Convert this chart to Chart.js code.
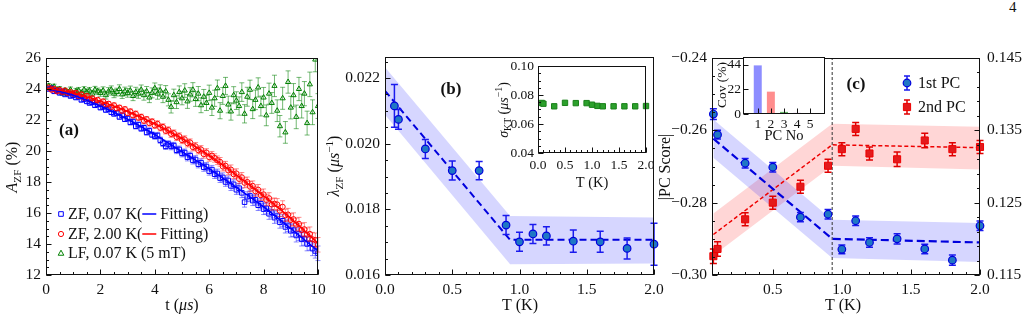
<!DOCTYPE html>
<html>
<head>
<meta charset="utf-8">
<script src="https://cdn.jsdelivr.net/npm/chart.js@4.4.1/dist/chart.umd.min.js"></script>
<style>
  html, body { margin: 0; padding: 0; background: #fff; }
  #page { position: relative; width: 1028px; height: 321px; overflow: hidden; }
  #page canvas { position: absolute; }
  #pgno { position: absolute; left: 1009px; top: -1px; font: 15px "Liberation Serif", serif; color: #111; }
</style>
</head>
<body>
<div id="page">
  <div id="pgno">4</div>
  <canvas id="ca" width="340" height="281" style="left:0px;top:40px"></canvas>
  <canvas id="cb" width="348" height="281" style="left:322px;top:40px"></canvas>
  <canvas id="cc" width="373" height="281" style="left:655px;top:40px"></canvas>
  <canvas id="cbi" width="170" height="140" style="left:490px;top:55px"></canvas>
  <canvas id="cci" width="125" height="95" style="left:705px;top:50px"></canvas>
</div>
<script>
// ---------- (a) asymmetry vs time ----------
const tA = [0.1,0.2,0.3,0.4,0.5,0.6,0.7,0.8,0.9,1.0,
  1.1,1.2,1.3,1.4,1.5,1.6,1.7,1.8,1.9,2.0,
  2.1,2.2,2.3,2.4,2.5,2.6,2.7,2.8,2.9,3.0,
  3.1,3.2,3.3,3.4,3.5,3.6,3.7,3.8,3.9,4.0,
  4.1,4.2,4.3,4.4,4.5,4.6,4.7,4.8,4.9,5.0,
  5.1,5.2,5.3,5.4,5.5,5.6,5.7,5.8,5.9,6.0,
  6.1,6.2,6.3,6.4,6.5,6.6,6.7,6.8,6.9,7.0,
  7.1,7.2,7.3,7.4,7.5,7.6,7.7,7.8,7.9,8.0,
  8.1,8.2,8.3,8.4,8.5,8.6,8.7,8.8,8.9,9.0,
  9.1,9.2,9.3,9.4,9.5,9.6,9.7,9.8,9.9,10.0];
const zf007 = [24.0,24.05,23.85,23.9,23.75,23.85,23.65,23.7,23.55,23.6,
  23.45,23.5,23.3,23.35,23.2,23.1,23.15,22.95,23.0,22.8,
  22.85,22.65,22.7,22.5,22.4,22.45,22.2,22.3,22.05,22.1,
  21.85,21.9,21.6,21.7,21.45,21.5,21.2,21.3,21.05,20.95,
  21.0,20.7,20.5,20.3,20.45,20.3,20.35,20.05,20.1,19.85,
  19.9,19.6,19.7,19.4,19.45,19.15,19.25,18.95,19.0,18.7,
  18.8,18.5,18.55,18.25,18.3,18.0,18.1,17.75,17.85,17.5,
  17.6,17.3,16.7,17.05,17.1,16.8,16.85,16.5,16.6,16.25,
  16.3,15.95,16.05,15.7,15.8,15.4,15.5,15.1,15.2,14.85,
  14.9,14.55,14.65,14.3,14.35,14.0,14.05,13.7,13.55,13.4];
const zf200 = [24.1,23.95,24.0,23.85,23.95,23.8,23.9,23.75,23.8,23.7,
  23.75,23.55,23.65,23.45,23.55,23.35,23.4,23.25,23.3,23.1,
  23.2,23.0,23.05,22.85,22.95,22.75,22.8,22.6,22.7,22.45,
  22.55,22.3,22.4,22.15,22.2,21.95,22.05,21.8,21.9,21.65,
  21.75,21.5,21.55,21.3,21.35,21.1,21.15,20.9,20.95,20.7,
  20.75,20.5,20.55,20.25,20.3,20.05,20.1,19.8,19.9,19.6,
  19.7,19.55,19.4,19.3,19.0,19.05,18.75,18.8,18.5,18.55,
  18.2,18.3,17.95,18.0,17.7,17.75,17.4,17.5,17.15,17.2,
  16.85,16.95,16.55,16.6,16.55,16.15,16.4,15.85,15.9,15.55,
  15.6,15.25,15.3,14.9,14.95,14.6,14.65,14.3,14.25,13.95];
const lf007 = [24.2,24.1,24.15,23.95,24.0,23.75,23.9,23.8,23.95,23.7,
  23.85,23.9,23.75,23.95,23.8,23.9,23.7,23.95,23.85,23.75,
  23.9,23.6,23.85,23.95,23.7,23.8,24.0,23.65,23.85,23.75,
  23.9,23.55,23.8,23.7,23.95,23.6,23.85,23.45,23.75,24.05,
  23.7,23.9,23.5,23.85,23.3,22.85,23.6,23.15,23.8,23.4,
  23.9,23.2,23.65,23.95,23.35,23.7,22.95,23.5,23.1,23.75,
  22.8,23.4,24.05,22.6,23.55,24.2,23.0,22.55,23.6,23.25,
  22.9,23.8,22.4,23.5,23.95,22.7,23.3,24.1,22.9,23.45,
  22.3,23.7,23.1,24.2,22.6,21.6,23.4,21.2,24.45,22.8,
  23.6,22.2,24.0,22.9,23.7,21.8,24.3,22.5,25.9,22.9];
const errZF = [0.1,0.1,0.11,0.1,0.1,0.11,0.1,0.11,0.1,0.11,
  0.12,0.12,0.13,0.12,0.12,0.13,0.12,0.13,0.13,0.13,
  0.14,0.15,0.14,0.15,0.15,0.14,0.15,0.16,0.15,0.16,
  0.17,0.17,0.18,0.17,0.18,0.18,0.17,0.19,0.18,0.19,
  0.2,0.2,0.21,0.2,0.21,0.22,0.21,0.22,0.22,0.23,
  0.23,0.24,0.23,0.24,0.25,0.24,0.25,0.26,0.25,0.26,
  0.27,0.27,0.28,0.28,0.29,0.28,0.29,0.3,0.29,0.3,
  0.31,0.31,0.32,0.32,0.33,0.32,0.33,0.34,0.34,0.35,
  0.36,0.36,0.37,0.37,0.38,0.38,0.39,0.39,0.4,0.4,
  0.41,0.42,0.42,0.43,0.43,0.44,0.45,0.45,0.46,0.47];
const errLF = [0.15,0.15,0.16,0.15,0.16,0.17,0.16,0.17,0.18,0.17,
  0.19,0.2,0.19,0.2,0.21,0.2,0.21,0.22,0.21,0.22,
  0.24,0.25,0.24,0.25,0.26,0.25,0.27,0.26,0.27,0.28,
  0.29,0.3,0.31,0.3,0.31,0.32,0.31,0.33,0.32,0.34,
  0.36,0.37,0.38,0.37,0.39,0.4,0.39,0.41,0.4,0.42,
  0.44,0.45,0.44,0.46,0.47,0.46,0.48,0.47,0.49,0.5,
  0.51,0.52,0.53,0.52,0.54,0.55,0.54,0.56,0.55,0.57,
  0.59,0.6,0.59,0.61,0.62,0.61,0.63,0.62,0.64,0.65,
  0.67,0.68,0.67,0.69,0.7,0.69,0.71,0.7,0.72,0.73,
  0.75,0.76,0.75,0.77,0.78,0.77,0.79,0.8,0.79,0.8];
const tFit = [0,1,2,3,4,5,6,7,8,9,10];
const fit007 = [24.05,23.6,22.9,22.05,21.05,19.95,18.85,17.65,16.4,15.0,13.55];
const fit200 = [24.05,23.75,23.2,22.55,21.75,20.8,19.7,18.45,17.1,15.65,14.05];
const ticksAx = [0,2,4,6,8,10], labelsAx = ['0','2','4','6','8','10'];
const ticksAy = [12,14,16,18,20,22,24,26], labelsAy = ['12','14','16','18','20','22','24','26'];

// ---------- (b) relaxation rate vs temperature ----------
const tB = [0.07,0.1,0.3,0.5,0.7,0.9,1.0,1.1,1.2,1.4,1.6,1.8,2.0];
const lamB = [0.02115,0.02074,0.01984,0.01918,0.01918,0.01752,0.01701,0.01725,0.01719,0.01703,0.01701,0.01681,0.01694];
const errB = [0.00065,0.0003,0.00029,0.00029,0.00028,0.00029,0.00029,0.00029,0.00028,0.00034,0.00032,0.00032,0.00064];
const fitB_T = [0,0.93,2.0];
const fitB = [0.02161,0.01707,0.01707];
const bandB_hi = [0.02233,0.01780,0.01775];
const bandB_lo = [0.02088,0.01633,0.01635];
const ticksBx = [0,0.5,1.0,1.5,2.0], labelsBx = ['0.0','0.5','1.0','1.5','2.0'];
const ticksBy = [0.016,0.018,0.020,0.022], labelsBy = ['0.016','0.018','0.020','0.022'];

// inset (b): sigma_KT
const tK = [0.07,0.1,0.3,0.5,0.7,0.9,1.0,1.1,1.2,1.4,1.6,1.8,2.0];
const sigKT = [0.0745,0.0740,0.0722,0.0746,0.0744,0.0744,0.0733,0.0725,0.0722,0.0722,0.0722,0.0722,0.0724];
const ticksKx = [0,0.5,1.0,1.5,2.0], labelsKx = ['0.0','0.5','1.0','1.5','2.0'];
const ticksKy = [0.04,0.06,0.08,0.10], labelsKy = ['0.04','0.06','0.08','0.10'];

// ---------- (c) PCA scores ----------
const tC = [0.07,0.1,0.3,0.5,0.7,0.9,1.0,1.1,1.2,1.4,1.6,1.8,2.0];
const pc1 = [-0.2555,-0.2612,-0.2691,-0.2702,-0.2840,-0.2832,-0.2929,-0.2850,-0.2910,-0.2900,-0.2928,-0.2959,-0.2864];
const pc1Err = [0.0015,0.0012,0.0013,0.0013,0.0013,0.0013,0.0012,0.0013,0.0013,0.0014,0.0013,0.0014,0.0013];
const pc2 = [0.1176,0.1186,0.1227,0.1250,0.1272,0.1301,0.1324,0.1352,0.1318,0.1310,0.1336,0.1324,0.1327];
const pc2Err = [0.0010,0.0010,0.0009,0.0009,0.0009,0.0009,0.0009,0.0009,0.0009,0.0010,0.0010,0.0009,0.0009];
const fitC_T = [0.07,0.93,2.0];
const fitC1 = [-0.2623,-0.2900,-0.2910];
const bandC1_hi = [-0.2570,-0.2847,-0.2856];
const bandC1_lo = [-0.2676,-0.2953,-0.2964];
const fitC2 = [0.1206,0.1330,0.1326];
const bandC2_hi = [0.1235,0.1359,0.1355];
const bandC2_lo = [0.1177,0.1301,0.1296];
const Tc = 0.93;
const ticksCx = [0.5,1.0,1.5,2.0], labelsCx = ['0.5','1.0','1.5','2.0'];
const ticksCy = [-0.30,-0.28,-0.26,-0.24], labelsCy = ['\u22120.30','\u22120.28','\u22120.26','\u22120.24'];
const ticksCy2 = [0.115,0.125,0.135,0.145], labelsCy2 = ['0.115','0.125','0.135','0.145'];

// inset (c): covariance per PC
const pcNo = [1,2,3,4,5];
const cov = [43.5,20.0,1.9,1.0,0.6];
const ticksPx = [1,2,3,4,5], labelsPx = ['1','2','3','4','5'];
const ticksPy = [0,22,44], labelsPy = ['0','22','44'];

// ---------- helpers ----------
const FONT = '"Liberation Serif", "Times New Roman", serif';
Chart.defaults.font.family = FONT;
Chart.defaults.font.size = 15.5;
Chart.defaults.color = '#111';

const pts = (xs, ys) => xs.map((x, i) => ({ x: x, y: ys[i] }));

function segFont(st, size) {
  const small = st.indexOf('_') >= 0 || st.indexOf('^') >= 0;
  return (st.indexOf('i') >= 0 ? 'italic ' : '') + (st.indexOf('b') >= 0 ? 'bold ' : '') +
    (small ? size * 0.7 : size).toFixed(1) + 'px ' + FONT;
}

function drawRich(ctx, segs, x, y, size, align, rot) {
  segs = segs.map(s => Array.isArray(s) ? { t: s[0], st: s[1] || '' } : s);
  ctx.save();
  ctx.translate(x, y);
  if (rot) ctx.rotate(-Math.PI / 2);
  const widths = segs.map(s => {
    if (s.line) return s.line;
    ctx.font = segFont(s.st, size);
    return ctx.measureText(s.t).width;
  });
  const total = widths.reduce((a, b) => a + b, 0);
  let cx = align === 'left' ? 0 : (align === 'right' ? -total : -total / 2);
  ctx.textAlign = 'left';
  ctx.textBaseline = 'alphabetic';
  segs.forEach((s, i) => {
    if (s.line) {
      ctx.strokeStyle = s.color;
      ctx.lineWidth = 1.5;
      ctx.beginPath();
      ctx.moveTo(cx, 0);
      ctx.lineTo(cx + s.line, 0);
      ctx.stroke();
    } else {
      ctx.font = segFont(s.st, size);
      ctx.fillStyle = '#111';
      let dy = size * 0.33;
      if (s.st.indexOf('_') >= 0) dy += size * 0.22;
      if (s.st.indexOf('^') >= 0) dy -= size * 0.38;
      ctx.fillText(s.t, cx, dy);
    }
    cx += widths[i];
  });
  ctx.restore();
}

function drawMark(ctx, m) {
  ctx.save();
  ctx.lineWidth = m.lw || 1;
  if (m.err) {
    ctx.strokeStyle = m.errColor;
    ctx.lineWidth = 1.5;
    ctx.beginPath();
    ctx.moveTo(m.x, m.y - m.err); ctx.lineTo(m.x, m.y + m.err);
    ctx.moveTo(m.x - 3, m.y - m.err); ctx.lineTo(m.x + 3, m.y - m.err);
    ctx.moveTo(m.x - 3, m.y + m.err); ctx.lineTo(m.x + 3, m.y + m.err);
    ctx.stroke();
    ctx.lineWidth = m.lw || 1;
  }
  ctx.strokeStyle = m.stroke;
  ctx.fillStyle = m.fill || 'rgba(0,0,0,0)';
  ctx.beginPath();
  if (m.type === 'rect') ctx.rect(m.x - m.r, m.y - m.r, 2 * m.r, 2 * m.r);
  else if (m.type === 'tri') { ctx.moveTo(m.x, m.y - m.r); ctx.lineTo(m.x + m.r, m.y + m.r * 0.8); ctx.lineTo(m.x - m.r, m.y + m.r * 0.8); ctx.closePath(); }
  else ctx.arc(m.x, m.y, m.r, 0, Math.PI * 2);
  if (m.fill) ctx.fill();
  ctx.stroke();
  ctx.restore();
}

// frame + inward major/minor ticks
const frameTicks = {
  id: 'frameTicks',
  beforeDraw(chart, args, o) {
    if (!o.bg) return;
    const a = chart.chartArea, ctx = chart.ctx;
    ctx.save();
    ctx.fillStyle = o.bg;
    ctx.fillRect(a.left, a.top, a.right - a.left, a.bottom - a.top);
    ctx.restore();
  },
  afterDatasetsDraw(chart, args, o) {
    const a = chart.chartArea, ctx = chart.ctx;
    const L = Math.round(a.left) + 0.5, R = Math.round(a.right) - 0.5;
    const T = Math.round(a.top) + 0.5, B = Math.round(a.bottom) - 0.5;
    ctx.save();
    ctx.strokeStyle = '#111';
    ctx.lineWidth = 1;
    ctx.strokeRect(L, T, R - L, B - T);
    ctx.beginPath();
    (o.axes || []).forEach(ax => {
      const s = chart.scales[ax.id];
      const put = (v, len) => {
        const p = Math.round(s.getPixelForValue(v)) + 0.5;
        if (ax.side === 'bottom') { ctx.moveTo(p, B); ctx.lineTo(p, B - len); }
        else if (ax.side === 'left') { ctx.moveTo(L, p); ctx.lineTo(L + len, p); }
        else { ctx.moveTo(R, p); ctx.lineTo(R - len, p); }
      };
      if (ax.minor) {
        const b = ax.base || 0;
        const k0 = Math.ceil((s.min - b) / ax.minor - 1e-6), k1 = Math.floor((s.max - b) / ax.minor + 1e-6);
        for (let k = k0; k <= k1; k++) put(b + k * ax.minor, 2.5);
      }
      s.ticks.forEach(t => put(t.value, 5));
    });
    ctx.stroke();
    ctx.restore();
  }
};

// vertical error bars from dataset.errors
const errorBars = {
  id: 'errorBars',
  beforeDatasetDraw(chart, args) {
    const ds = chart.data.datasets[args.index];
    if (!ds.errors) return;
    const meta = args.meta, ys = chart.scales[meta.yAxisID], ctx = chart.ctx, a = chart.chartArea;
    const cap = ds.cap || 3;
    ctx.save();
    if (ds.errClip) { ctx.beginPath(); ctx.rect(a.left, a.top, a.right - a.left, a.bottom - a.top); ctx.clip(); }
    ctx.strokeStyle = ds.errColor;
    ctx.lineWidth = ds.errWidth || 1;
    meta.data.forEach((el, i) => {
      const v = ds.data[i].y, e = ds.errors[i];
      const y1 = ys.getPixelForValue(v - e), y2 = ys.getPixelForValue(v + e);
      ctx.beginPath();
      ctx.moveTo(el.x, y1); ctx.lineTo(el.x, y2);
      ctx.moveTo(el.x - cap, y1); ctx.lineTo(el.x + cap, y1);
      ctx.moveTo(el.x - cap, y2); ctx.lineTo(el.x + cap, y2);
      ctx.stroke();
    });
    ctx.restore();
  }
};

// titles, panel letters, legends
const ann = {
  id: 'ann',
  afterDraw(chart, args, o) {
    const ctx = chart.ctx, ox = o.off[0], oy = o.off[1];
    (o.marks || []).forEach(m => drawMark(ctx, Object.assign({}, m, { x: m.x - ox, y: m.y - oy })));
    (o.texts || []).forEach(t => drawRich(ctx, t.segs, t.x - ox, t.y - oy, t.size || 16, t.align || 'center', t.rot));
  }
};

function axis(o) {
  const vertical = o.pos === 'left' || o.pos === 'right';
  return {
    type: 'linear', position: o.pos, min: o.min, max: o.max,
    grid: { display: false, drawTicks: false },
    border: { display: false },
    afterBuildTicks: s => { s.ticks = o.ticks.map(v => ({ value: v })); },
    afterFit: s => {
      if (vertical) { s.width = o.size; s.paddingTop = 0; s.paddingBottom = 0; }
      else { s.height = o.size; s.paddingLeft = 0; s.paddingRight = 0; }
    },
    ticks: {
      autoSkip: false, maxRotation: 0, minRotation: 0, padding: o.pad,
      font: { size: o.fs || 15.5 }, color: '#111',
      callback: (v, i) => o.labels[i]
    }
  };
}

function opts(padding, scales, plugins) {
  return {
    responsive: false, animation: false, devicePixelRatio: 1, events: [],
    layout: { padding: padding },
    scales: scales,
    plugins: Object.assign({ legend: { display: false }, tooltip: { enabled: false } }, plugins)
  };
}

const BLUE_BAND = 'rgba(0,0,255,0.16)', RED_BAND = 'rgba(255,0,0,0.16)';
const NONE = 'rgba(0,0,0,0)';
const bandDs = (xs, ys, color, yid, ord) => ({
  data: pts(xs, ys), showLine: true, pointRadius: 0, borderWidth: 0, borderColor: NONE,
  backgroundColor: color, fill: color ? '+1' : false, yAxisID: yid || 'y', order: ord
});

// ---------- panel (a) ----------
new Chart(document.getElementById('ca'), {
  type: 'scatter',
  data: { datasets: [
    { data: pts(tFit, fit200), showLine: true, borderColor: '#ff0000', borderWidth: 1.5, pointRadius: 0, cubicInterpolationMode: 'monotone', order: 0 },
    { data: pts(tFit, fit007), showLine: true, borderColor: '#0000ff', borderWidth: 1.5, pointRadius: 0, cubicInterpolationMode: 'monotone', order: 1 },
    { data: pts(tA, zf200), pointStyle: 'circle', pointRadius: 2.6, borderWidth: 1, borderColor: '#ff0000', backgroundColor: NONE,
      errors: errZF, errColor: 'rgba(255,0,0,0.45)', cap: 2.5, order: 2 },
    { data: pts(tA, zf007), pointStyle: 'rect', pointRadius: 3.2, borderWidth: 1, borderColor: '#0000ff', backgroundColor: NONE,
      errors: errZF, errColor: 'rgba(0,0,255,0.45)', cap: 2.5, order: 3 },
    { data: pts(tA, lf007), pointStyle: 'triangle', pointRadius: 3, borderWidth: 1, borderColor: '#008000', backgroundColor: NONE,
      errors: errLF, errColor: 'rgba(0,128,0,0.55)', cap: 2.5, errClip: true, order: 4 }
  ]},
  options: opts({ top: 18, right: 22, left: 0, bottom: 0 }, {
    x: axis({ pos: 'bottom', min: 0, max: 10, ticks: ticksAx, labels: labelsAx, size: 46, pad: 6 }),
    y: axis({ pos: 'left', min: 12, max: 26, ticks: ticksAy, labels: labelsAy, size: 46, pad: 5 })
  }, {
    frameTicks: { axes: [{ id: 'x', side: 'bottom', minor: 0.5 }, { id: 'y', side: 'left', minor: 0.5 }] },
    ann: {
      off: [0, 40],
      marks: [
        { type: 'rect', x: 61, y: 214, r: 2.3, stroke: '#0000ff' },
        { type: 'circle', x: 61, y: 234, r: 2.6, stroke: '#ff0000' },
        { type: 'tri', x: 61, y: 253, r: 2.8, stroke: '#008000' }
      ],
      texts: [
        { segs: [['A', 'i'], ['ZF', '_'], [' (%)']], x: 12, y: 167, rot: true },
        { segs: [['t ('], ['\u03bcs', 'i'], [')']], x: 182, y: 305 },
        { segs: [['(a)', 'b']], x: 69, y: 129, size: 17 },
        { segs: [['ZF, 0.07 K('], { line: 14, color: '#0000ff' }, [' Fitting)']], x: 68, y: 214, align: 'left' },
        { segs: [['ZF, 2.00 K('], { line: 14, color: '#ff0000' }, [' Fitting)']], x: 68, y: 234, align: 'left' },
        { segs: [['LF, 0.07 K (5 mT)']], x: 68, y: 253, align: 'left' }
      ]
    }
  }),
  plugins: [frameTicks, errorBars, ann]
});

// ---------- panel (b) ----------
new Chart(document.getElementById('cb'), {
  type: 'scatter',
  data: { datasets: [
    { data: pts(tB, lamB), pointStyle: 'circle', pointRadius: 3.8, borderWidth: 1.2, borderColor: '#0000dd', backgroundColor: '#1f77c4',
      errors: errB, errColor: '#1a1aee', errWidth: 1.5, cap: 3.5, clip: false, order: 0 },
    { data: pts(fitB_T, fitB), showLine: true, pointRadius: 0, borderColor: '#0000dd', borderWidth: 2, borderDash: [7, 4], order: 1 },
    bandDs(fitB_T, bandB_hi, BLUE_BAND, 'y', 2),
    bandDs(fitB_T, bandB_lo, null, 'y', 3)
  ]},
  options: opts({ top: 17, right: 16, left: 0, bottom: 0 }, {
    x: axis({ pos: 'bottom', min: 0, max: 2.0, ticks: ticksBx, labels: labelsBx, size: 46, pad: 6 }),
    y: axis({ pos: 'left', min: 0.016, max: 0.02264, ticks: ticksBy, labels: labelsBy, size: 63, pad: 5 })
  }, {
    frameTicks: { axes: [{ id: 'x', side: 'bottom', minor: 0.1 }, { id: 'y', side: 'left', minor: 0.0005 }] },
    ann: {
      off: [322, 40],
      texts: [
        { segs: [['\u03bb', 'i'], ['ZF', '_'], [' ('], ['\u03bcs', 'i'], ['\u22121', '^'], [')']], x: 334, y: 166, rot: true },
        { segs: [['T (K)']], x: 520, y: 305 },
        { segs: [['(b)', 'b']], x: 451, y: 88, size: 17 }
      ]
    }
  }),
  plugins: [frameTicks, errorBars, ann]
});

// ---------- panel (c) ----------
new Chart(document.getElementById('cc'), {
  type: 'scatter',
  data: { datasets: [
    { data: pts(tC, pc1), pointStyle: 'circle', pointRadius: 3.8, borderWidth: 1.2, borderColor: '#0000dd', backgroundColor: '#1f77c4',
      errors: pc1Err, errColor: '#1a1aee', errWidth: 1.5, cap: 3.5, clip: false, yAxisID: 'y', order: 0 },
    { data: pts(tC, pc2), pointStyle: 'rect', pointRadius: 5, borderWidth: 1, borderColor: '#ee0000', backgroundColor: '#e31a1c',
      errors: pc2Err, errColor: '#e00000', errWidth: 1.5, cap: 3.5, clip: false, yAxisID: 'y2', order: 1 },
    { data: pts(fitC_T, fitC1), showLine: true, pointRadius: 0, borderColor: '#0000dd', borderWidth: 2.2, borderDash: [8, 4], yAxisID: 'y', order: 2 },
    { data: pts(fitC_T, fitC2), showLine: true, pointRadius: 0, borderColor: '#ee0000', borderWidth: 1.5, borderDash: [4, 2.5], yAxisID: 'y2', order: 3 },
    { data: [{ x: Tc, y: -0.30 }, { x: Tc, y: -0.24 }], showLine: true, pointRadius: 0, borderColor: '#333', borderWidth: 1, borderDash: [3, 2], yAxisID: 'y', order: 4 },
    bandDs(fitC_T, bandC1_hi, BLUE_BAND, 'y', 5),
    bandDs(fitC_T, bandC1_lo, null, 'y', 6),
    bandDs(fitC_T, bandC2_hi, RED_BAND, 'y2', 7),
    bandDs(fitC_T, bandC2_lo, null, 'y2', 8)
  ]},
  options: opts({ top: 18, right: 0, left: 0, bottom: 0 }, {
    x: axis({ pos: 'bottom', min: 0.06, max: 2.0, ticks: ticksCx, labels: labelsCx, size: 46, pad: 6 }),
    y: axis({ pos: 'left', min: -0.30, max: -0.24, ticks: ticksCy, labels: labelsCy, size: 57, pad: 5 }),
    y2: axis({ pos: 'right', min: 0.115, max: 0.145, ticks: ticksCy2, labels: labelsCy2, size: 48, pad: 7 })
  }, {
    frameTicks: { axes: [
      { id: 'x', side: 'bottom', minor: 0.1 },
      { id: 'y', side: 'left', minor: 0.005 },
      { id: 'y2', side: 'right', minor: 0.002, base: 0.115 }
    ]},
    ann: {
      off: [655, 40],
      marks: [
        { type: 'circle', x: 907, y: 83, r: 3.8, stroke: '#0000dd', fill: '#1f77c4', lw: 1.2, err: 7, errColor: '#1a1aee' },
        { type: 'rect', x: 907, y: 107, r: 3.6, stroke: '#ee0000', fill: '#e31a1c', err: 7, errColor: '#e00000' }
      ],
      texts: [
        { segs: [['|PC Score|']], x: 665, y: 167, rot: true },
        { segs: [['T (K)']], x: 843, y: 305 },
        { segs: [['(c)', 'b']], x: 856, y: 83, size: 17 },
        { segs: [['1st PC']], x: 918, y: 83, align: 'left' },
        { segs: [['2nd PC']], x: 918, y: 107, align: 'left' }
      ]
    }
  }),
  plugins: [frameTicks, errorBars, ann]
});

// ---------- inset (b) ----------
new Chart(document.getElementById('cbi'), {
  type: 'scatter',
  data: { datasets: [
    { data: pts(tK, sigKT), pointStyle: 'rect', pointRadius: 3.8, borderWidth: 1, borderColor: '#1a801a', backgroundColor: '#2ca02c', clip: false }
  ]},
  options: opts({ top: 11, right: 14, left: 0, bottom: 0 }, {
    x: axis({ pos: 'bottom', min: 0, max: 2.0, ticks: ticksKx, labels: labelsKx, size: 42, pad: 4, fs: 13.5 }),
    y: axis({ pos: 'left', min: 0.04, max: 0.10, ticks: ticksKy, labels: labelsKy, size: 48, pad: 4, fs: 13.5 })
  }, {
    frameTicks: { bg: '#fff', axes: [{ id: 'x', side: 'bottom', minor: 0.1 }, { id: 'y', side: 'left', minor: 0.005 }] },
    ann: {
      off: [490, 55],
      texts: [
        { segs: [['\u03c3', 'i'], ['KT', '_'], [' ('], ['\u03bcs', 'i'], ['\u22121', '^'], [')']], x: 503, y: 110, rot: true, size: 14 },
        { segs: [['T (K)']], x: 592, y: 182, size: 14.5 }
      ]
    }
  }),
  plugins: [frameTicks, errorBars, ann]
});

// ---------- inset (c) ----------
new Chart(document.getElementById('cci'), {
  type: 'bar',
  data: { datasets: [
    { data: pts(pcNo, cov), backgroundColor: ['rgba(80,80,255,0.65)', 'rgba(255,80,80,0.65)', 'rgba(40,150,40,0.7)', 'rgba(160,60,190,0.7)', 'rgba(40,140,140,0.7)'],
      barPercentage: 0.76, categoryPercentage: 0.8 }
  ]},
  options: opts({ top: 7, right: 5, left: 0, bottom: 0 }, {
    x: axis({ pos: 'bottom', min: 0.5, max: 5.5, ticks: ticksPx, labels: labelsPx, size: 31, pad: 2, fs: 13.5 }),
    y: axis({ pos: 'left', min: 0, max: 51, ticks: ticksPy, labels: labelsPy, size: 38, pad: 2, fs: 13.5 })
  }, {
    frameTicks: { bg: '#fff', axes: [{ id: 'x', side: 'bottom' }, { id: 'y', side: 'left' }] },
    ann: {
      off: [705, 50],
      texts: [
        { segs: [['Cov (%)']], x: 722, y: 85, rot: true, size: 13.5 },
        { segs: [['PC No']], x: 784, y: 135, size: 14.5 }
      ]
    }
  }),
  plugins: [frameTicks, ann]
});
</script>
</body>
</html>
